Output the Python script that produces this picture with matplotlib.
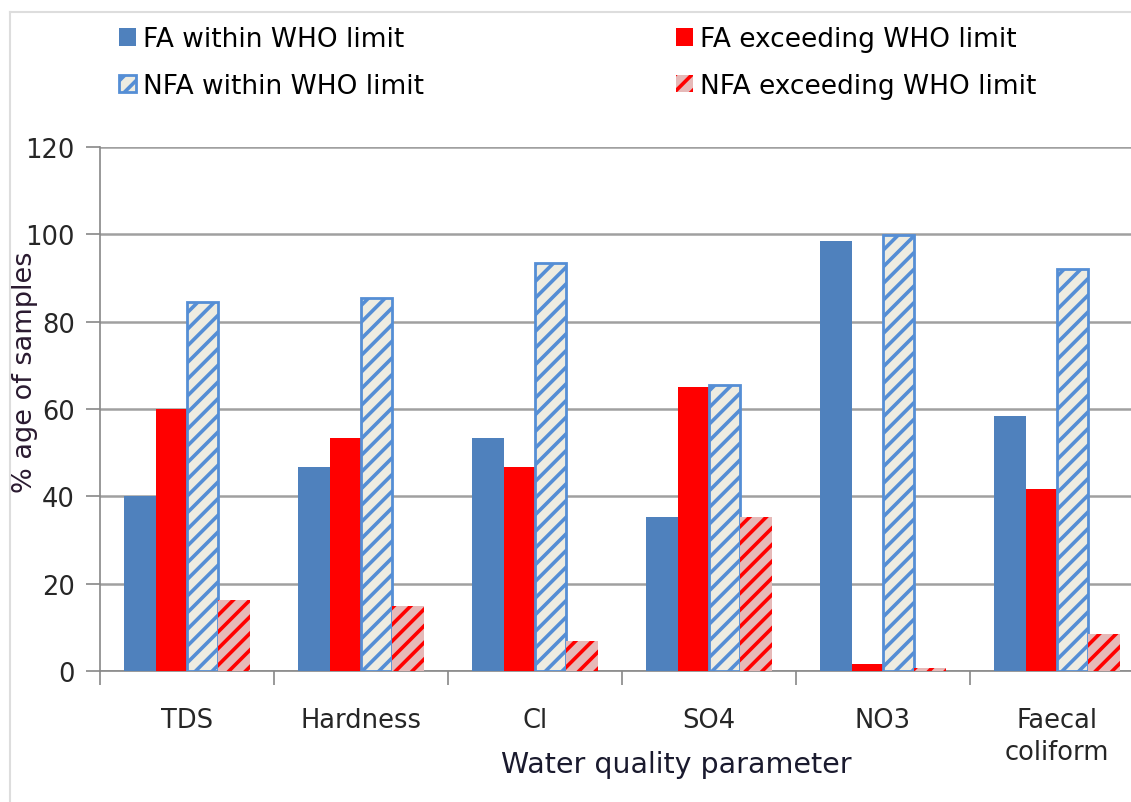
import numpy as np
import matplotlib
matplotlib.use("Agg")
import matplotlib.pyplot as plt
from matplotlib.lines import Line2D

categories = ["TDS", "Hardness", "Cl", "SO4", "NO3", "Faecal\ncoliform"]
fa_within = [40.0, 46.7, 53.3, 35.3, 98.5, 58.3]
fa_exceed = [60.0, 53.3, 46.7, 65.0, 1.5, 41.7]
nfa_within = [84.5, 85.5, 93.5, 65.5, 99.8, 92.0]
nfa_exceed = [16.2, 15.0, 6.8, 35.3, 0.8, 8.5]
yticks = [0, 20, 40, 60, 80, 100, 120]

plt.rcParams["font.family"] = ["DejaVu Sans"]
plt.rcParams["hatch.linewidth"] = 2.6

fig = plt.figure(figsize=(11.31, 8.03), dpi=100)
ax = fig.add_axes([100 / 1131, 131 / 803, 1044 / 1131, 524 / 803])

x = np.arange(len(categories))
w = 0.18
ax.bar(x - 1.5 * w, fa_within, w, color="#4F81BD", label="FA within WHO limit", zorder=3)
ax.bar(x - 0.5 * w, fa_exceed, w, color="#FF0000", label="FA exceeding WHO limit", zorder=3)
ax.bar(x + 0.5 * w, nfa_within, w, facecolor="#EEECE1", edgecolor="#558ED5", hatch="//",
       linewidth=2, label="NFA within WHO limit", zorder=3)
ax.bar(x + 1.5 * w, nfa_exceed, w, facecolor="#E6B9B8", edgecolor="#FF0000", hatch="//",
       linewidth=0, label="NFA exceeding WHO limit", zorder=3)

ax.set_xlim(-0.5, len(categories) - 0.5)
ax.set_ylim(0, 120)
ax.set_yticks(yticks)
ax.set_xticks(np.arange(len(categories) + 1) - 0.5, minor=True)
ax.set_xticks(x)
ax.set_xticklabels(categories, fontsize=18.5, color="#262626", linespacing=1.3)
ax.tick_params(axis="x", which="major", length=0, pad=26)
ax.tick_params(axis="x", which="minor", length=10, color="#888888", width=1.2)
ax.tick_params(axis="y", length=10, color="#888888", width=1.2, labelsize=18.5,
               labelcolor="#262626", pad=8)
ax.grid(axis="y", color="#A0A0A0", linewidth=1.8, zorder=0)
for s in ["top", "right"]:
    ax.spines[s].set_visible(False)
for s in ["left", "bottom"]:
    ax.spines[s].set_color("#888888")
    ax.spines[s].set_linewidth(1.2)

fig.text(676 / 1131, 1 - 765 / 803, "Water quality parameter", fontsize=20.5,
         ha="center", va="center", color="#1a1a2e")
fig.text(25 / 1131, 1 - 372 / 803, "% age of samples", fontsize=19.5, rotation=90,
         ha="center", va="center", color="#2a1a30")

handles, labels = ax.get_legend_handles_labels()
kw = dict(frameon=False, fontsize=19, handlelength=0.64, handleheight=0.64,
          handletextpad=0.25, labelspacing=0.78, borderpad=0, loc="upper left")
fig.legend([handles[0], handles[2]], [labels[0], labels[2]],
           bbox_to_anchor=(106 / 1131, 1 - 14 / 803), **kw)
fig.legend([handles[1], handles[3]], [labels[1], labels[3]],
           bbox_to_anchor=(663 / 1131, 1 - 14 / 803), **kw)

# faint outer frame
fig.add_artist(Line2D([10 / 1131, 1], [1 - 13 / 803, 1 - 13 / 803], color="#DDDDDD", lw=1.5))
fig.add_artist(Line2D([10 / 1131, 10 / 1131], [0, 1 - 13 / 803], color="#DDDDDD", lw=1.5))

fig.savefig("out.png", dpi=100)
